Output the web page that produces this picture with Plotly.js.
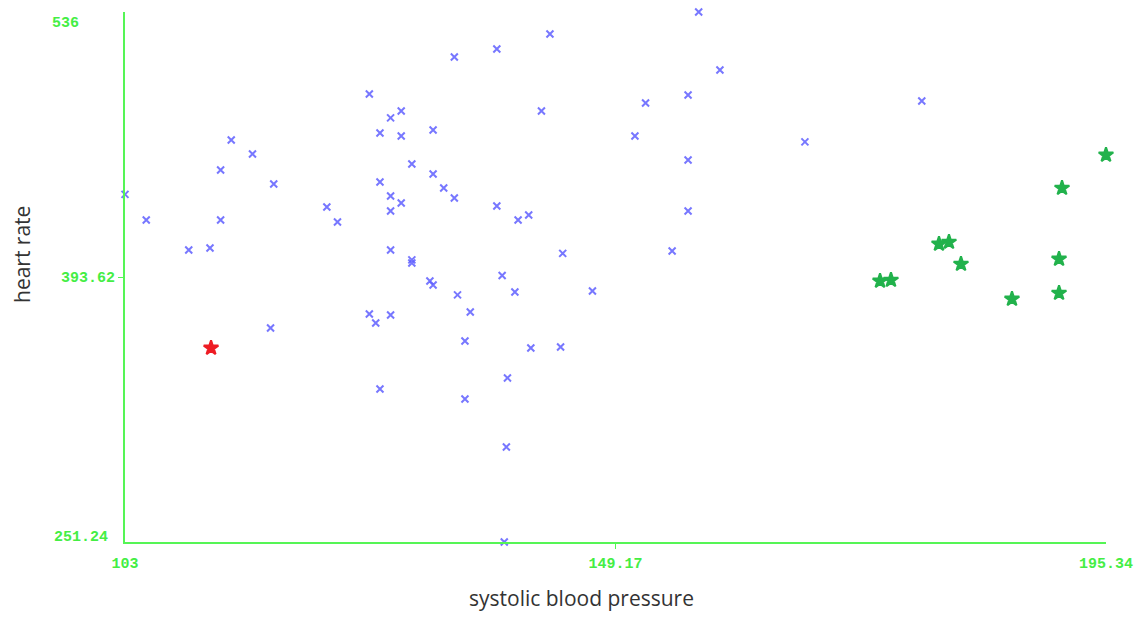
<!DOCTYPE html>
<html>
<head>
<meta charset="utf-8">
<script src="https://cdn.plot.ly/plotly-3.0.1.min.js"></script>
<style>html,body{margin:0;padding:0;background:#fff;}#chart{width:1144px;height:617px;}</style>
</head>
<body>
<div id="chart"></div>
<script>
// Blue points (other patients)
const blueSystolic = [103,105,109,111,112,112,113,115,117,116.7,122,123,126,127,128,129,129,130,132,127,128,129,128,132,133,134,128,130,130,131.7,132,134.3,135.5,126,126.6,128,127,135,135,134,138,143,142.2,138,140,141,138.5,139.7,144.2,147,141.2,144,139,138.9,138.7,151,152,156,157,159,156,156,154.5,167,178];
const blueHeartRate = [438,424.2,408.1,409.2,451.1,424.2,467.2,459.7,443.6,366.2,431.2,423.2,491.9,471,479.1,482.8,469.4,454.3,472.6,444.7,437.1,433.4,429.1,449,441.4,436.1,408.1,402.8,401.1,391.5,389.3,384,374.8,373.7,368.9,373.2,333.4,359.2,328.1,511.8,516.1,524.2,482.8,431.8,424.2,426.9,394.4,385.6,406.3,386.1,355.5,356,339.4,302.3,251.24,469.4,487.1,491.4,536,504.8,456.5,429.1,407.6,466.2,488.2];
// Green stars
const greenSystolic = [174.07,175.1,179.62,180.56,181.69,186.49,190.92,190.92,191.2,195.34];
const greenHeartRate = [391.5,392,411.4,412.4,400.6,381.8,403.3,385,441.4,459.2];
// Red star
const redSystolic = [111.1];
const redHeartRate = [355.5];

const xTickVals = [103,149.17,195.34];
const xTickText = ['103','149.17','195.34'];
const yTickVals = [393.62];
const yTickText = ['393.62'];
const yEndLabels = ['536','251.24'];
const xTitle = 'systolic blood pressure';
const yTitle = 'heart rate';

const green = '#55f555';
const tickFont = {family:'"Liberation Mono", "DejaVu Sans Mono", monospace', size:15, color:'#44ee44', weight:'bold'};
const titleFont = {family:'"Open Sans", sans-serif', size:21, color:'#333'};

const traces = [
  {x: blueSystolic, y: blueHeartRate, mode:'markers', type:'scatter', cliponaxis:false,
   marker:{symbol:'x-thin', size:7, color:'rgba(90,90,255,0.9)', line:{width:2, color:'rgba(95,95,255,0.85)'}}},
  {x: greenSystolic, y: greenHeartRate, mode:'markers', type:'scatter', cliponaxis:false,
   marker:{symbol:'star', size:11, color:'#22b24c', line:{width:2, color:'#22b24c'}}},
  {x: redSystolic, y: redHeartRate, mode:'markers', type:'scatter', cliponaxis:false,
   marker:{symbol:'star', size:11, color:'#ee1c24', line:{width:2, color:'#ee1c24'}}}
];

function px2paperX(px){return (px-125)/(1144-125-38);}
function px2paperY(py){return (617-75-py)/(617-12-75);}

const layout = {
  width:1144, height:617,
  margin:{l:125, r:38, t:12, b:75},
  paper_bgcolor:'#fff', plot_bgcolor:'#fff',
  showlegend:false,
  xaxis:{range:[103,195.34], showgrid:false, zeroline:false, showline:true, linecolor:green, linewidth:2,
    tickmode:'array', tickvals:xTickVals, ticktext:xTickText, ticks:'', tickfont:tickFont, ticklabelstandoff:6,
    minor:{tickmode:'array', tickvals:[149.17], ticks:'outside', ticklen:5, tickwidth:1, tickcolor:green}},
  yaxis:{range:[251.24,536], showgrid:false, zeroline:false, showline:true, linecolor:green, linewidth:2,
    tickmode:'array', tickvals:yTickVals, ticktext:yTickText, ticks:'outside', ticklen:5, tickwidth:1, tickcolor:green, tickfont:tickFont},
  annotations:[
    {text:yEndLabels[0], x:px2paperX(81), y:px2paperY(24), xanchor:'right', yanchor:'middle', xref:'paper', yref:'paper', showarrow:false, font:tickFont},
    {text:yEndLabels[1], x:px2paperX(110), y:px2paperY(537), xanchor:'right', yanchor:'middle', xref:'paper', yref:'paper', showarrow:false, font:tickFont},
    {text:xTitle, x:px2paperX(581), y:px2paperY(598), xanchor:'center', yanchor:'middle', xref:'paper', yref:'paper', showarrow:false, font:titleFont},
    {text:yTitle, x:px2paperX(22), y:px2paperY(255), xanchor:'center', yanchor:'middle', xref:'paper', yref:'paper', showarrow:false, textangle:-90, font:titleFont}
  ]
};
Plotly.newPlot('chart', traces, layout, {displayModeBar:false, staticPlot:true});
</script>
</body>
</html>
